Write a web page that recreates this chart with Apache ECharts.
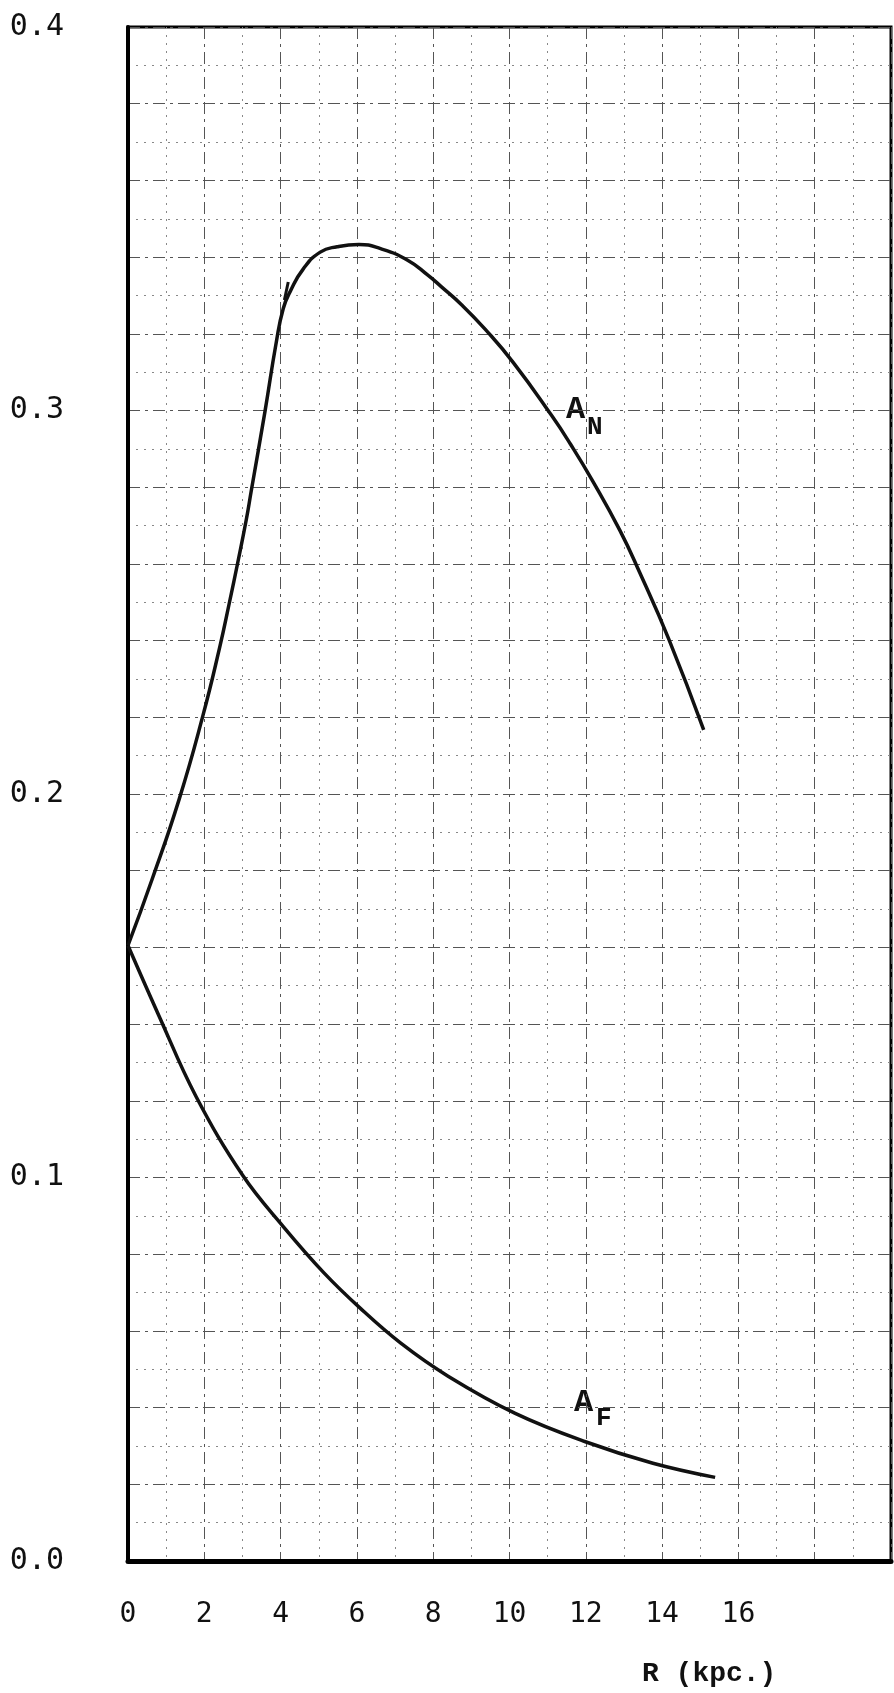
<!DOCTYPE html>
<html style="height: 100%">
<head>
    <meta charset="utf-8">
    <style>
        html, body {
            height: 100%;
            margin: 0;
            overflow: hidden;
            background: #fff;
        }
        #container {
            width: 894px;
            height: 1693px;
        }
    </style>
    <title>A_N and A_F against R</title>
</head>
<body>
<div id="container"></div>
<script src="https://cdn.jsdelivr.net/npm/echarts@6/dist/echarts.min.js"></script>
<script type="text/javascript">
// R (kpc.) and value pairs
var rN = [0, 0.63, 1.34, 1.96, 2.40, 2.66, 2.88, 3.10, 3.23, 3.59, 3.89, 4.07, 4.25, 4.60, 5.04, 5.48,
          6.05, 6.62, 7.33, 7.86, 8.21, 8.75, 9.36, 10.10, 11.11, 11.60, 12.17, 12.89, 13.41, 14.17, 15.09];
var aN = [0.1605, 0.1777, 0.1986, 0.2203, 0.2381, 0.2500, 0.2605, 0.2715, 0.2790, 0.2997, 0.3180,
          0.3266, 0.3310, 0.3370, 0.3413, 0.3427, 0.3433, 0.3422, 0.3392, 0.3353, 0.3323, 0.3275,
          0.3212, 0.3125, 0.2986, 0.2912, 0.2818, 0.2688, 0.2578, 0.2405, 0.2167];
// little overshoot stroke where the rising branch meets the arc
var stubR = [4.10, 4.20];
var stubA = [0.3288, 0.3335];
var rF = [0, 0.81, 1.78, 3.01, 4.07, 5.13, 6.10, 7.15, 8.39, 10.15, 11.99, 13.76, 15.39];
var aF = [0.1605, 0.1422, 0.1212, 0.1005, 0.0872, 0.0752, 0.0658, 0.0568, 0.0482, 0.0385, 0.0311,
          0.0255, 0.0218];
var xTickLabels = [0, 2, 4, 6, 8, 10, 12, 14, 16];
var yTickLabels = ['0.0', '0.1', '0.2', '0.3', '0.4'];

function pairs(xs, ys) {
    var out = [];
    for (var i = 0; i < xs.length; i++) out.push([xs[i], ys[i]]);
    return out;
}

var chart = echarts.init(document.getElementById('container'));
var monoFont = '"DejaVu Sans Mono", monospace';
var typeFont = '"Liberation Mono", "Courier New", monospace';
var curveStyle = {color: '#111', width: 3.5};

var option = {
    animation: false,
    backgroundColor: '#fff',
    grid: {
        left: 128, right: 1, top: 27, bottom: 132,
        show: true,
        borderColor: '#000',
        borderWidth: 3
    },
    xAxis: {
        type: 'value',
        min: 0, max: 20, interval: 2,
        axisLine: {show: true, lineStyle: {color: '#000', width: 5}},
        axisTick: {show: false},
        minorTick: {show: false, splitNumber: 2},
        splitLine: {show: true, lineStyle: {color: '#555', width: 1, type: [12, 5, 3, 5]}},
        minorSplitLine: {show: true, lineStyle: {color: '#888', width: 1, type: [2, 6]}},
        axisLabel: {
            margin: 40,
            fontFamily: monoFont,
            fontSize: 28,
            color: '#111',
            formatter: function (v) {
                return xTickLabels.indexOf(v) >= 0 ? String(v) : '';
            }
        }
    },
    yAxis: {
        type: 'value',
        min: 0, max: 0.4, interval: 0.02,
        axisLine: {show: true, lineStyle: {color: '#000', width: 4}},
        axisTick: {show: false},
        minorTick: {show: false, splitNumber: 2},
        splitLine: {show: true, lineStyle: {color: '#555', width: 1, type: [12, 5, 3, 5]}},
        minorSplitLine: {show: true, lineStyle: {color: '#888', width: 1, type: [2, 6]}},
        axisLabel: {
            margin: 64,
            fontFamily: monoFont,
            fontSize: 30,
            color: '#111',
            formatter: function (v) {
                var k = Math.round(v * 100);
                return k % 10 === 0 ? yTickLabels[k / 10] : '';
            }
        }
    },
    series: [{
        name: 'A_N',
        type: 'line',
        data: pairs(rN, aN),
        showSymbol: false,
        smooth: 0.5,
        lineStyle: curveStyle,
        z: 5
    }, {
        name: 'A_N stub',
        type: 'line',
        data: pairs(stubR, stubA),
        showSymbol: false,
        lineStyle: {color: '#111', width: 3},
        z: 5
    }, {
        name: 'A_F',
        type: 'line',
        data: pairs(rF, aF),
        showSymbol: false,
        smooth: 0.4,
        lineStyle: curveStyle,
        z: 5
    }],
    graphic: [{
        type: 'text', left: 566, top: 394,
        style: {text: 'A', font: 'bold 32px ' + typeFont, fill: '#111'}
    }, {
        type: 'text', left: 587, top: 414,
        style: {text: 'N', font: 'bold 26px ' + typeFont, fill: '#111'}
    }, {
        type: 'text', left: 574, top: 1387,
        style: {text: 'A', font: 'bold 32px ' + typeFont, fill: '#111'}
    }, {
        type: 'text', left: 596, top: 1405,
        style: {text: 'F', font: 'bold 26px ' + typeFont, fill: '#111'}
    }, {
        type: 'text', left: 642, top: 1660,
        style: {text: 'R (kpc.)', font: 'bold 28px ' + typeFont, fill: '#111'}
    }]
};
chart.setOption(option);
</script>
</body>
</html>
